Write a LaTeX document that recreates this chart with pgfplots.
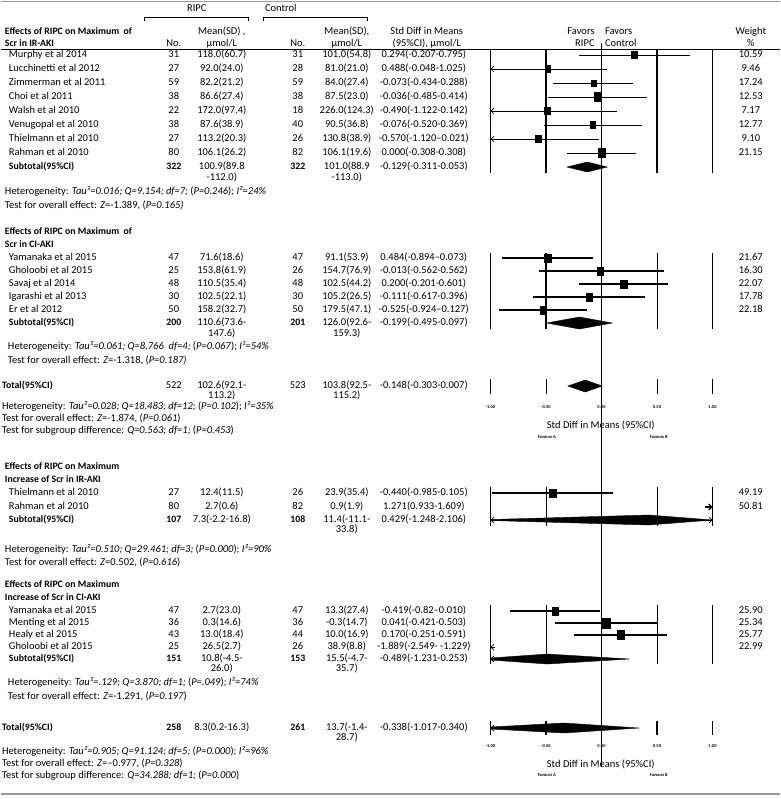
\documentclass[border=0pt]{standalone}
\usepackage{pgfplots}
\pgfplotsset{compat=1.18}
\usepackage{pgfplotstable}
\usepackage{fontspec}
\setmainfont{Carlito}
\usetikzlibrary{arrows.meta}

% y = row position (px from top), est/lo/hi as drawn (clamped to -1..1), ms = half width of square
\pgfplotstableread{
y   est    lo     hi    ms
55  0.294 -0.207  0.795 2.6
69 -0.488 -1.000  0.048 2.6
83 -0.073 -0.434  0.288 2.4
97 -0.036 -0.485  0.414 3.4
111 -0.490 -1.000 0.142 2.6
125 -0.076 -0.520 0.369 2.6
139 -0.570 -1.000 -0.021 2.6
153  0.000 -0.308 0.308 3.4
}\sone
\pgfplotstableread{
y   est    lo     hi    ms
258 -0.484 -0.894 -0.073 3.3
271 -0.013 -0.562  0.562 3.3
284  0.200 -0.201  0.601 3.3
297 -0.111 -0.617  0.396 3.3
310 -0.525 -0.924 -0.127 3.3
}\stwo
\pgfplotstableread{
y   est    lo     hi    ms
493 -0.440 -0.985 0.105 3.2
}\sthree
\pgfplotstableread{
y   est    lo     hi    ms
611 -0.419 -0.820 -0.010 3.3
623  0.041 -0.421  0.503 3.8
635  0.170 -0.251  0.591 3.5
}\sfour

\newcommand{\vseg}[4]{\addplot[black, line width=#4, forget plot] coordinates {(#1,#2) (#1,#3)};}
\newcommand{\forest}[2]{%
  \addplot[scatter, only marks, mark=square*, scatter/use mapped color={draw=black,fill=black},
    visualization depends on={\thisrow{ms}\as\ms},
    scatter/@pre marker code/.append style={/tikz/mark size=\ms pt, /tikz/yscale=1.3},
    error bars/.cd, x dir=both, x explicit, error mark=none,
    error bar style={line width=#2, black}]
    table[x=est, y=y, x error plus expr=\thisrow{hi}-\thisrow{est},
          x error minus expr=\thisrow{est}-\thisrow{lo}] {#1};}
\tikzset{barb/.style={-{Straight Barb[length=3pt,width=6pt]}, line width=0.7pt}}

\newcommand{\B}[1]{{\fontsize{9.8}{12}\selectfont\bfseries #1}}
\newcommand{\study}[8]{%
  \node[anchor=west] at (8,#1) {#2};
  \node at (173,#1) {#3};
  \node at (221,#1) {#4};
  \node at (297,#1) {#5};
  \node at (346,#1) {#6};
  \node at (423,#1) {#7};
  \node at (750,#1) {#8};}

\begin{document}
\begin{tikzpicture}
\begin{scope}[x=1pt,y=-1pt]
\path[use as bounding box] (0,0) rectangle (779,799);
\end{scope}
\begin{axis}[at={(0pt,0pt)}, anchor=north west, scale only axis,
  width=779pt, height=799pt, xmin=-5.4117, xmax=1.6063, ymin=0, ymax=799,
  y dir=reverse, hide axis, clip=false]
% zero line
\vseg{0}{43}{767}{0.8pt}
% section grids
\vseg{-1}{49.5}{173}{0.8pt} \vseg{-0.5}{49.5}{173}{1.8pt}
\vseg{0.5}{49.5}{173}{1.8pt} \vseg{1}{49.5}{173}{0.8pt}
\vseg{-1}{253}{329}{0.8pt} \vseg{-0.5}{253}{329}{1.1pt}
\vseg{0.5}{253}{329}{0.8pt} \vseg{1}{253}{329}{1.6pt}
\vseg{-1}{379}{394}{1pt} \vseg{-0.5}{379}{394}{1pt}
\vseg{0.5}{379}{394}{1pt} \vseg{1}{379}{394}{1pt}
\vseg{-1}{487}{526}{0.8pt} \vseg{-0.5}{487}{526}{0.8pt}
\vseg{0.5}{487}{526}{0.8pt} \vseg{1}{487}{526}{0.8pt}
\vseg{-1}{605}{664}{1.6pt} \vseg{-0.5}{605}{664}{0.8pt}
\vseg{0.5}{605}{664}{0.8pt} \vseg{1}{605}{664}{0.8pt}
\vseg{-1}{721}{735}{1.2pt} \vseg{-0.5}{721}{735}{1.2pt}
\vseg{0.5}{721}{735}{1.2pt} \vseg{1}{721}{735}{1.2pt}

% studies
\forest{\sone}{0.8pt}
\forest{\stwo}{2.6pt}
\forest{\sthree}{1.6pt}
\forest{\sfour}{1.4pt}
% arrows where the interval leaves the scale
\addplot[barb] coordinates {(-0.9,69) (-1,69)};
\addplot[barb] coordinates {(-0.9,111) (-1,111)};
\addplot[barb] coordinates {(-0.9,139) (-1,139)};
\addplot[barb, line width=1.2pt] coordinates {(0.933,507) (1,507)};
\addplot[barb] coordinates {(-0.96,647) (-1,647)};

% pooled estimates
\addplot[fill=black, draw=black] coordinates {(-0.311,167) (-0.129,162) (0.053,167) (-0.129,172)} -- cycle;
\addplot[fill=black, draw=black] coordinates {(-0.495,323) (-0.199,317) (0.097,323) (-0.199,329)} -- cycle;
\addplot[fill=black, draw=black] coordinates {(-0.303,386) (-0.148,380) (0.007,386) (-0.148,392)} -- cycle;
\addplot[fill=black, draw=black] coordinates {(-1,519.5) (0.429,515) (1,520) (0.429,525) (-1,520.5)} -- cycle;
\addplot[barb, {Straight Barb[length=3pt,width=6pt]}-{Straight Barb[length=3pt,width=6pt]}] coordinates {(-1,520) (1,520)};
\addplot[fill=black, draw=black] coordinates {(-1,658) (-0.489,654) (0.253,659) (-0.489,664) (-1,660)} -- cycle;
\addplot[barb] coordinates {(-0.9,659) (-1,659)};
\addplot[fill=black, draw=black] coordinates {(-1,727) (-0.338,723) (0.340,728) (-0.338,733) (-1,729)} -- cycle;
\addplot[barb] coordinates {(-0.9,728) (-1,728)};
\end{axis}

\begin{scope}[x=1pt,y=-1pt, every node/.style={inner sep=0pt, text height=7pt, text depth=2pt, font=\fontsize{10.5}{12}\selectfont}]
% rules
\draw[gray!80, line width=1.6pt] (0,1.5) -- (779,1.5);
\draw[gray!80, line width=1.6pt] (0,794) -- (779,794);
\draw[line width=0.8pt] (0,49.5) -- (779,49.5);
\draw[line width=0.7pt] (144,21) -- (144,17) -- (248,17) -- (248,21);
\draw[line width=0.7pt] (263,21) -- (263,17) -- (367,17) -- (367,21);
% header
\node at (196,9) {RIPC};
\node at (280,9) {Control};
\node[anchor=west] at (4,32) {\B{Effects of RIPC on Maximum\ \ of}};
\node[anchor=west] at (4,44) {\B{Scr in IR-AKI}};
\node at (173,44) {No.};
\node at (221,32) {Mean(SD) ,};
\node at (221,44) {µmol/L};
\node at (297,44) {No.};
\node at (346,32) {Mean(SD),};
\node at (346,44) {µmol/L};
\node at (426,32) {Std Diff in Means};
\node at (426,44) {(95\%CI), µmol/L};
\node[anchor=east] at (594,32) {Favors};
\node[anchor=east] at (594,44) {RIPC};
\node[anchor=west] at (604,32) {Favors};
\node[anchor=west] at (604,44) {Control};
\node at (750,32) {Weight};
\node at (750,44) {\%};

% section 1
\study{55}{Murphy et al 2014}{31}{118.0(60.7)}{31}{101.0(54.8)}{0.294(-0.207-0.795)}{10.59}
\study{69}{Lucchinetti et al 2012}{27}{92.0(24.0)}{28}{81.0(21.0)}{0.488(-0.048-1.025)}{9.46}
\study{83}{Zimmerman et al 2011}{59}{82.2(21.2)}{59}{84.0(27.4)}{-0.073(-0.434-0.288)}{17.24}
\study{97}{Choi et al 2011}{38}{86.6(27.4)}{38}{87.5(23.0)}{-0.036(-0.485-0.414)}{12.53}
\study{111}{Walsh et al 2010}{22}{172.0(97.4)}{18}{226.0(124.3)}{-0.490(-1.122-0.142)}{7.17}
\study{125}{Venugopal et al 2010}{38}{87.6(38.9)}{40}{90.5(36.8)}{-0.076(-0.520-0.369)}{12.77}
\study{139}{Thielmann et al 2010}{27}{113.2(20.3)}{26}{130.8(38.9)}{-0.570(-1.120--0.021)}{9.10}
\study{153}{Rahman et al 2010}{80}{106.1(26.2)}{82}{106.1(19.6)}{0.000(-0.308-0.308)}{21.15}
\study{167}{\B{Subtotal(95\%CI)}}{\B{322}}{100.9(89.8}{\B{322}}{101.0(88.9}{-0.129(-0.311-0.053)}{}
\node at (221,178) {-112.0)};
\node at (346,178) {-113.0)};
\node[anchor=west] at (4,192) {Heterogeneity: \textit{Tau²=0.016; Q=9.154; df=7;} (\textit{P=0.246}); \textit{I²=24\%}};
\node[anchor=west] at (4,206) {Test for overall effect: \textit{Z}=-1.389, (\textit{P=0.165)}};

% section 2
\node[anchor=west] at (4,232) {\B{Effects of RIPC on Maximum\ \ of}};
\node[anchor=west] at (4,245) {\B{Scr in CI-AKI}};
\study{258}{Yamanaka et al 2015}{47}{71.6(18.6)}{47}{91.1(53.9)}{0.484(-0.894--0.073)}{21.67}
\study{271}{Gholoobi et al 2015}{25}{153.8(61.9)}{26}{154.7(76.9)}{-0.013(-0.562-0.562)}{16.30}
\study{284}{Savaj et al 2014}{48}{110.5(35.4)}{48}{102.5(44.2)}{0.200(-0.201-0.601)}{22.07}
\study{297}{Igarashi et al 2013}{30}{102.5(22.1)}{30}{105.2(26.5)}{-0.111(-0.617-0.396)}{17.78}
\study{310}{Er et al 2012}{50}{158.2(32.7)}{50}{179.5(47.1)}{-0.525(-0.924--0.127)}{22.18}
\study{323}{\B{Subtotal(95\%CI)}}{\B{200}}{110.6(73.6-}{\B{201}}{126.0(92.6-}{-0.199(-0.495-0.097)}{}
\node at (221,334) {147.6)};
\node at (346,334) {159.3)};
\node[anchor=west] at (7,347) {Heterogeneity: \textit{Tau²=0.061; Q=8.766\ \ df=4;} (\textit{P=0.067}); \textit{I²=54\%}};
\node[anchor=west] at (7,361) {Test for overall effect: \textit{Z}=-1.318, (\textit{P=0.187)}};

% total 1
\node[anchor=west] at (1,386) {\B{Total(95\%CI)}};
\node at (173,386) {522};
\node at (221,386) {102.6(92.1-};
\node at (297,386) {523};
\node at (346,386) {103.8(92.5-};
\node at (423,386) {-0.148(-0.303-0.007)};
\node at (221,396) {113.2)};
\node at (346,396) {115.2)};
\node[anchor=west] at (1,407) {Heterogeneity: \textit{Tau²=0.028; Q=18.483; df=12;} (\textit{P=0.102}); \textit{I²=35\%}};
\node[anchor=west] at (1,419) {Test for overall effect: \textit{Z}=-1.874, (\textit{P=0.061})};
\node[anchor=west] at (1,431) {Test for subgroup difference: \textit{Q=0.563; df=1;} (\textit{P=0.453})};
\begin{scope}[every node/.append style={font=\fontsize{4.5}{5}\selectfont\bfseries, text height=3.5pt, text depth=0pt}]
\foreach \v/\t in {489.7/-1.00, 545.2/-0.50, 600.7/0.00, 656.2/0.50, 711.7/1.00} {
  \node at (\v,407) {\t};
  \node at (\v,746) {\t};}
\node at (546,437) {Favours A};
\node at (658,437) {Favours B};
\node at (546,775) {Favours A};
\node at (658,775) {Favours B};
\end{scope}
\node at (600,426) {Std Diff in Means (95\%CI)};
\node at (600,765) {Std Diff in Means (95\%CI)};

% section 3
\node[anchor=west] at (4,467) {\B{Effects of RIPC on Maximum}};
\node[anchor=west] at (4,480) {\B{Increase of Scr in IR-AKI}};
\study{493}{Thielmann et al 2010}{27}{12.4(11.5)}{26}{23.9(35.4)}{-0.440(-0.985-0.105)}{49.19}
\study{507}{Rahman et al 2010}{80}{2.7(0.6)}{82}{0.9(1.9)}{1.271(0.933-1.609)}{50.81}
\study{520}{\B{Subtotal(95\%CI)}}{\B{107}}{7.3(-2.2-16.8)}{\B{108}}{11.4(-11.1-}{0.429(-1.248-2.106)}{}
\node at (346,530) {33.8)};
\node[anchor=west] at (4,550) {Heterogeneity: \textit{Tau²=0.510; Q=29.461; df=3;} (\textit{P=0.000}); \textit{I²=90\%}};
\node[anchor=west] at (4,563) {Test for overall effect: \textit{Z}=0.502, (\textit{P=0.616})};

% section 4
\node[anchor=west] at (4,585) {\B{Effects of RIPC on Maximum}};
\node[anchor=west] at (4,598) {\B{Increase of Scr in CI-AKI}};
\study{611}{Yamanaka et al 2015}{47}{2.7(23.0)}{47}{13.3(27.4)}{-0.419(-0.82--0.010)}{25.90}
\study{623}{Menting et al 2015}{36}{0.3(14.6)}{36}{-0.3(14.7)}{0.041(-0.421-0.503)}{25.34}
\study{635}{Healy et al 2015}{43}{13.0(18.4)}{44}{10.0(16.9)}{0.170(-0.251-0.591)}{25.77}
\study{647}{Gholoobi et al 2015}{25}{26.5(2.7)}{26}{38.9(8.8)}{-1.889(-2.549- -1.229)}{22.99}
\study{659}{\B{Subtotal(95\%CI)}}{\B{151}}{10.8(-4.5-}{\B{153}}{15.5(-4.7-}{-0.489(-1.231-0.253)}{}
\node at (221,669) {26.0)};
\node at (346,669) {35.7)};
\node[anchor=west] at (7,683) {Heterogeneity: \textit{Tau²=.129; Q=3.870; df=1;} (\textit{P=.049}); \textit{I²=74\%}};
\node[anchor=west] at (7,697) {Test for overall effect: \textit{Z}=-1.291, (\textit{P=0.197})};

% total 2
\node[anchor=west] at (1,728) {\B{Total(95\%CI)}};
\node at (173,728) {\B{258}};
\node at (221,728) {8.3(0.2-16.3)};
\node at (297,728) {\B{261}};
\node at (346,728) {13.7(-1.4-};
\node at (423,728) {-0.338(-1.017-0.340)};
\node at (346,738) {28.7)};
\node[anchor=west] at (1,752) {Heterogeneity: \textit{Tau²=0.905; Q=91.124; df=5;} (\textit{P=0.000}); \textit{I²=96\%}};
\node[anchor=west] at (1,764) {Test for overall effect: \textit{Z}=–0.977, (\textit{P=0.328})};
\node[anchor=west] at (1,776) {Test for subgroup difference: \textit{Q=34.288; df=1;} (\textit{P=0.000})};
\end{scope}
\end{tikzpicture}
\end{document}
